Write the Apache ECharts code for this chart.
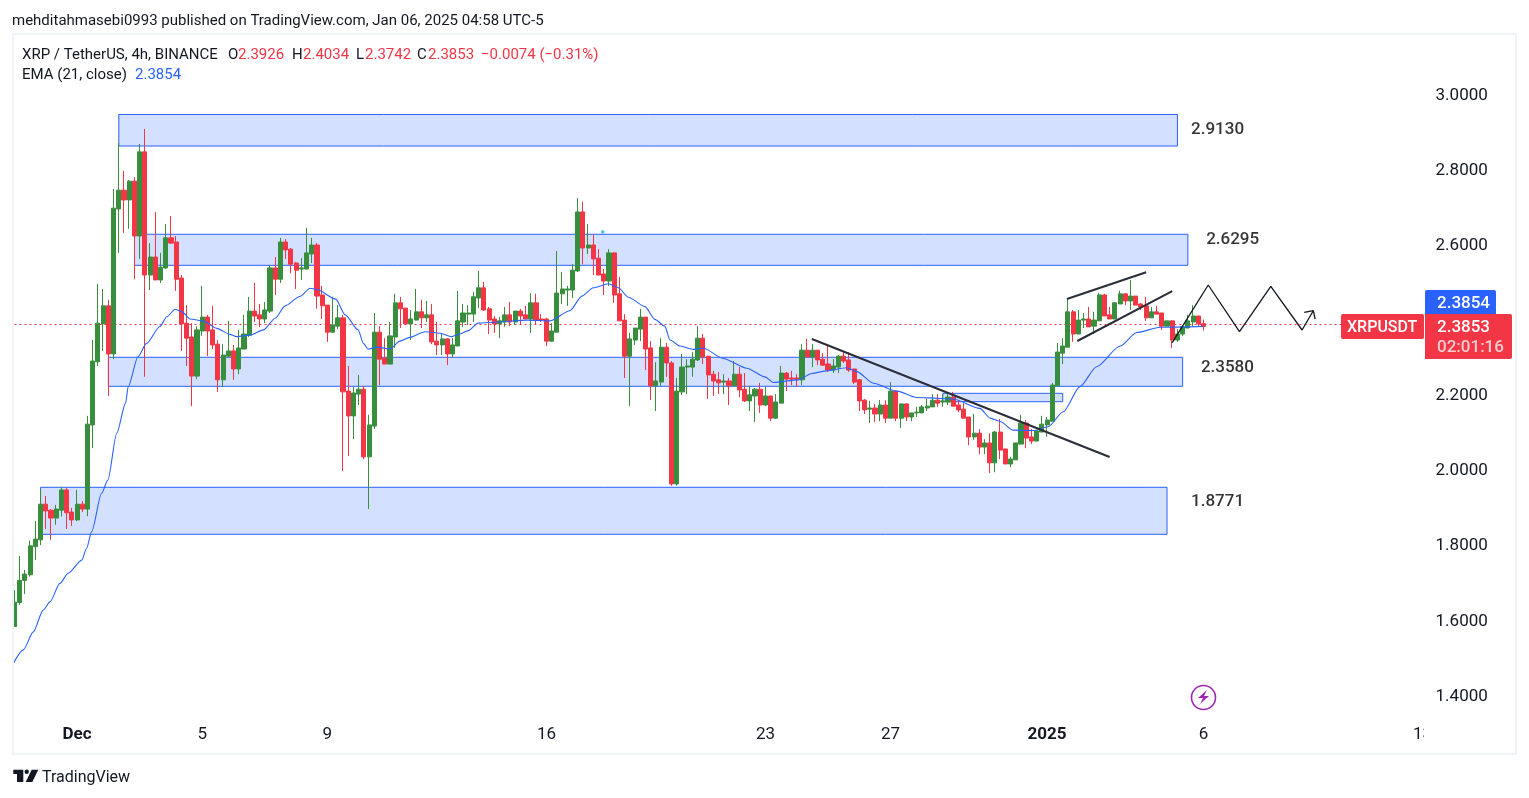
<!DOCTYPE html>
<html><head><meta charset="utf-8">
<style>html,body{margin:0;padding:0;background:#fff}#c{width:1529px;height:798px}</style>
<script src="https://cdn.jsdelivr.net/npm/echarts@6/dist/echarts.min.js"></script>
</head><body><div id="c"></div>
<script>
const opens=[1.586,1.650,1.709,1.724,1.799,1.817,1.912,1.896,1.875,1.896,1.950,1.891,1.870,1.912,1.899,2.123,2.291,2.392,2.440,2.312,2.698,2.748,2.722,2.772,2.626,2.850,2.522,2.570,2.509,2.541,2.621,2.610,2.514,2.394,2.357,2.253,2.373,2.410,2.376,2.338,2.243,2.306,2.320,2.272,2.325,2.362,2.426,2.416,2.405,2.426,2.541,2.511,2.610,2.591,2.554,2.538,2.538,2.578,2.602,2.469,2.442,2.370,2.386,2.408,2.213,2.147,2.205,2.218,2.038,2.120,2.370,2.301,2.285,2.357,2.448,2.434,2.392,2.402,2.424,2.408,2.416,2.346,2.336,2.352,2.312,2.333,2.397,2.418,2.418,2.461,2.488,2.432,2.405,2.392,2.397,2.416,2.397,2.426,2.416,2.405,2.448,2.405,2.405,2.346,2.370,2.472,2.482,2.482,2.533,2.690,2.594,2.602,2.567,2.525,2.506,2.581,2.472,2.402,2.306,2.349,2.378,2.410,2.328,2.227,2.237,2.330,2.288,1.966,2.211,2.277,2.277,2.296,2.354,2.306,2.258,2.243,2.237,2.240,2.227,2.258,2.218,2.187,2.200,2.218,2.176,2.200,2.141,2.181,2.261,2.248,2.248,2.243,2.322,2.304,2.322,2.298,2.285,2.269,2.277,2.306,2.296,2.272,2.243,2.189,2.165,2.168,2.152,2.176,2.141,2.213,2.141,2.179,2.144,2.155,2.155,2.168,2.171,2.189,2.184,2.184,2.197,2.176,2.165,2.144,2.091,2.101,2.064,2.075,2.022,2.104,2.059,2.019,2.030,2.072,2.128,2.091,2.080,2.104,2.123,2.133,2.227,2.314,2.330,2.424,2.365,2.402,2.405,2.386,2.400,2.469,2.416,2.405,2.445,2.472,2.453,2.466,2.445,2.440,2.408,2.424,2.421,2.386,2.400,2.349,2.365,2.381,2.397,2.413,2.3926];
const closes=[1.651,1.709,1.726,1.801,1.819,1.912,1.894,1.875,1.899,1.950,1.889,1.870,1.912,1.899,2.125,2.293,2.394,2.440,2.312,2.700,2.748,2.722,2.772,2.626,2.850,2.522,2.570,2.509,2.543,2.621,2.607,2.511,2.392,2.354,2.253,2.376,2.410,2.373,2.336,2.243,2.309,2.320,2.272,2.328,2.365,2.426,2.413,2.405,2.429,2.541,2.511,2.610,2.589,2.551,2.535,2.541,2.581,2.602,2.466,2.440,2.370,2.389,2.408,2.211,2.147,2.208,2.218,2.038,2.123,2.370,2.298,2.285,2.360,2.448,2.432,2.392,2.405,2.424,2.408,2.416,2.344,2.336,2.352,2.312,2.336,2.400,2.421,2.421,2.464,2.488,2.429,2.402,2.392,2.400,2.416,2.397,2.426,2.413,2.405,2.448,2.402,2.402,2.346,2.373,2.474,2.485,2.485,2.535,2.690,2.594,2.602,2.565,2.522,2.506,2.581,2.469,2.400,2.306,2.352,2.381,2.410,2.325,2.227,2.240,2.330,2.288,1.966,2.213,2.277,2.280,2.298,2.354,2.304,2.256,2.240,2.235,2.240,2.227,2.258,2.216,2.187,2.203,2.218,2.176,2.200,2.141,2.184,2.261,2.245,2.245,2.245,2.322,2.304,2.322,2.296,2.282,2.269,2.280,2.306,2.293,2.269,2.237,2.187,2.163,2.168,2.152,2.176,2.141,2.213,2.141,2.179,2.144,2.155,2.157,2.171,2.173,2.189,2.181,2.187,2.197,2.173,2.163,2.141,2.091,2.101,2.064,2.075,2.022,2.104,2.056,2.019,2.032,2.075,2.128,2.088,2.080,2.107,2.125,2.136,2.229,2.317,2.333,2.424,2.365,2.402,2.405,2.384,2.402,2.469,2.413,2.405,2.448,2.472,2.453,2.466,2.442,2.437,2.408,2.424,2.418,2.386,2.400,2.349,2.365,2.384,2.400,2.413,2.392,2.3853];
const lows=[1.586,1.644,1.673,1.719,1.763,1.803,1.846,1.817,1.857,1.879,1.846,1.854,1.867,1.891,1.880,2.061,2.280,2.320,2.200,2.298,2.581,2.634,2.645,2.511,2.565,2.251,2.482,2.509,2.501,2.538,2.605,2.480,2.320,2.280,2.173,2.245,2.360,2.306,2.325,2.211,2.224,2.304,2.243,2.258,2.325,2.357,2.397,2.384,2.394,2.421,2.469,2.501,2.565,2.527,2.485,2.509,2.538,2.554,2.432,2.405,2.344,2.368,2.378,2.000,2.040,2.085,2.176,2.032,1.899,2.112,2.229,2.285,2.285,2.328,2.381,2.392,2.349,2.402,2.381,2.397,2.338,2.309,2.309,2.282,2.301,2.333,2.384,2.389,2.397,2.434,2.426,2.365,2.368,2.354,2.384,2.386,2.389,2.389,2.405,2.368,2.389,2.397,2.333,2.344,2.370,2.445,2.440,2.461,2.530,2.551,2.578,2.522,2.522,2.469,2.493,2.448,2.400,2.248,2.173,2.336,2.346,2.269,2.189,2.160,2.227,2.251,1.961,1.961,2.203,2.205,2.251,2.293,2.285,2.192,2.200,2.205,2.205,2.176,2.227,2.197,2.184,2.160,2.131,2.155,2.173,2.133,2.139,2.181,2.213,2.229,2.224,2.229,2.304,2.277,2.282,2.280,2.264,2.261,2.261,2.288,2.264,2.232,2.160,2.152,2.128,2.131,2.133,2.128,2.141,2.133,2.115,2.133,2.133,2.144,2.155,2.160,2.171,2.171,2.171,2.176,2.173,2.157,2.141,2.069,2.083,2.045,2.045,1.995,1.997,2.032,2.019,2.011,2.030,2.072,2.061,2.072,2.080,2.104,2.091,2.133,2.227,2.285,2.330,2.344,2.365,2.381,2.384,2.365,2.400,2.413,2.405,2.405,2.445,2.442,2.429,2.442,2.429,2.400,2.408,2.418,2.376,2.386,2.328,2.344,2.360,2.381,2.386,2.386,2.3742];
const highs=[1.683,1.774,1.737,1.815,1.867,1.950,1.934,1.899,1.910,1.958,1.955,1.902,1.950,1.920,2.147,2.349,2.498,2.485,2.456,2.751,2.874,2.799,2.775,2.783,2.871,2.911,2.607,2.690,2.581,2.658,2.679,2.626,2.522,2.442,2.394,2.386,2.493,2.416,2.440,2.349,2.338,2.400,2.336,2.376,2.416,2.464,2.501,2.445,2.450,2.549,2.570,2.621,2.618,2.594,2.557,2.567,2.647,2.621,2.607,2.493,2.442,2.464,2.442,2.416,2.280,2.224,2.256,2.227,2.150,2.421,2.386,2.354,2.397,2.472,2.464,2.434,2.429,2.485,2.456,2.453,2.445,2.397,2.368,2.354,2.354,2.480,2.445,2.442,2.477,2.533,2.504,2.437,2.413,2.410,2.437,2.450,2.426,2.432,2.440,2.474,2.472,2.418,2.408,2.394,2.586,2.530,2.493,2.551,2.727,2.717,2.658,2.629,2.591,2.538,2.591,2.583,2.517,2.418,2.368,2.381,2.432,2.410,2.346,2.290,2.354,2.341,2.293,2.248,2.312,2.298,2.317,2.386,2.365,2.306,2.267,2.264,2.258,2.248,2.293,2.277,2.261,2.227,2.221,2.235,2.224,2.200,2.205,2.280,2.264,2.267,2.258,2.338,2.352,2.338,2.322,2.314,2.333,2.298,2.309,2.317,2.317,2.272,2.245,2.192,2.187,2.179,2.189,2.189,2.237,2.216,2.179,2.181,2.155,2.171,2.176,2.192,2.205,2.205,2.205,2.211,2.211,2.189,2.181,2.144,2.152,2.112,2.085,2.101,2.107,2.139,2.059,2.038,2.075,2.150,2.136,2.112,2.107,2.147,2.144,2.235,2.341,2.354,2.458,2.429,2.429,2.421,2.437,2.424,2.474,2.472,2.437,2.450,2.480,2.472,2.509,2.466,2.448,2.464,2.437,2.440,2.421,2.400,2.402,2.378,2.384,2.416,2.442,2.413,2.4034];

const emaPos=[-0.3,1.7,3.6,5.5,6.8,8.7,10.3,12.9,13.8,14.8,16.7,17.9,19.6,21.3,21.8,23.7,25.3,27.9,29.2,30.8,32.1,33.7,36.2,38.8,41.3,42.6,45.2,47.7,50,51.9,54.7,56.7,57.9,61.6,63.4,65.9,66.9,67.8,69.5,72,73.9,75.8,78.7,81.6,83.8,85.4,87,88.9,92.5,98.2,102.7,106.5,108.8,111,113.9,115.8,117.7,120.9,122.8,124.7,125.7,127.6,130.2,132.1,135.9,140.4,143.9,145.5,150.3,152.9,155.7,159.6,161.5,164.7,169.2,173,175.5,180,185.1,187.1,189,191.5,195.4,198.2,201.1,204.3,207.5,212,215.2,219.7,228];
const emaVal=[1.486,1.524,1.572,1.630,1.652,1.701,1.728,1.763,1.794,1.839,1.941,1.976,2.101,2.181,2.225,2.305,2.340,2.385,2.411,2.431,2.424,2.405,2.400,2.380,2.364,2.358,2.362,2.376,2.407,2.440,2.465,2.487,2.484,2.458,2.416,2.376,2.340,2.325,2.330,2.325,2.346,2.356,2.371,2.367,2.358,2.365,2.374,2.394,2.397,2.402,2.400,2.427,2.466,2.488,2.499,2.488,2.463,2.438,2.404,2.386,2.349,2.333,2.324,2.327,2.300,2.274,2.251,2.236,2.243,2.260,2.267,2.275,2.265,2.234,2.213,2.196,2.195,2.192,2.167,2.141,2.132,2.109,2.108,2.118,2.158,2.225,2.278,2.333,2.369,2.383,2.3854];

const yTicks=[1.4,1.6,1.8,2.0,2.2,2.4,2.6,2.8,3.0];
const xTickPos=[12,36,60,102,144,168,198,228,270];
const xTickText=['Dec','5','9','16','23','27','2025','6','13'];
const lastPrice=2.3853;

// zones: [from candle, to candle, top price, bottom price]
const zoneFrom=[20,23,18,5,178];
const zoneTo=[223,225,224,221,201];
const zoneTop=[2.9494,2.6305,2.303,1.9569,2.2071];
const zoneBottom=[2.8655,2.5479,2.2258,1.8317,2.1848];

const noteText=['2.9130','2.6295','2.3580','1.8771'];
const notePos=[225.6,228.5,227.5,225.6];
const noteVal=[2.913,2.622,2.280,1.923];

const trendA=[[152.9,2.3517],[210,2.0375]];
const channelUp=[[201.8,2.4582],[217,2.5293]];
const channelLow=[[203.8,2.3464],[222,2.4795]];
const zigzag=[[222,2.3419],[228.9,2.4955],[234.9,2.3711],[240.9,2.492],[246.9,2.3757],[249.05,2.427]];
const arrowHead=[[247.3,2.4228],[249.05,2.427],[249.4,2.405]];
const dot=[[112.8,2.637]];

const SLOTS=271;
const categories=[];
for(let i=0;i<SLOTS;i++){const k=xTickPos.indexOf(i);categories.push(k>=0?xTickText[k]:'i'+i);}
const candle=opens.map((o,i)=>[o,closes[i],lows[i],highs[i]]);
const FONT='Roboto, sans-serif', INK='#131722', RED='#f23645', GREEN='#388e3c', BLUE='#2962ff';
const lineSeries=(d,w,c,z,smooth)=>({type:'line',xAxisIndex:1,yAxisIndex:0,data:d,symbol:'none',silent:true,z:z||6,smooth:smooth||false,smoothMonotone:smooth?'x':undefined,lineStyle:{color:c,width:w},animation:false});
function txt(x,y,s,o,z){return {type:'text',z:z||100,style:Object.assign({x:x,y:y,text:s,fill:INK,font:'15px '+FONT,textVerticalAlign:'middle'},o||{})};}
function headerRow(){
 const f='15px '+FONT; const r=[];
 r.push(txt(12,21,'mehditahmasebi0993 published on TradingView.com, Jan 06, 2025 04:58 UTC-5',{font:f}));
 r.push(txt(22,55.5,'XRP / TetherUS, 4h, BINANCE',{font:f}));
 [['O',228,'2.3926',238],['H',292,'2.4034',303],['L',356,'2.3742',365],['C',417,'2.3853',428]].forEach(a=>{
  r.push(txt(a[1],55.5,a[0],{font:f})); r.push(txt(a[3],55.5,a[2],{font:f,fill:RED}));});
 r.push(txt(481,55.5,'\u22120.0074 (\u22120.31%)',{font:f,fill:RED}));
 r.push(txt(22,75.5,'EMA (21, close)',{font:f}));
 r.push(txt(135,75.5,'2.3854',{font:f,fill:BLUE}));
 return r;
}
const chart=echarts.init(document.getElementById('c'),null,{renderer:'canvas'});
chart.setOption({
 animation:false,backgroundColor:'#fff',
 grid:{left:14.5,top:35,width:1408.05,height:683,containLabel:false},
 xAxis:[{type:'category',data:categories,boundaryGap:false,axisLine:{show:false},axisTick:{show:false},splitLine:{show:false},
   axisLabel:{interval:(i)=>xTickPos.indexOf(i)>=0,showMaxLabel:true,hideOverlap:false,margin:8,
     formatter:(v)=>(v==='Dec'||v==='2025')?'{b|'+v+'}':v,color:INK,fontSize:17,fontFamily:FONT,
     rich:{b:{fontWeight:'bold',fontSize:17,fontFamily:FONT,color:INK}}}},
  {type:'value',min:0,max:270,show:false,splitLine:{show:false}}],
 yAxis:{type:'value',position:'right',min:1.3427,max:3.1611,scale:true,axisLine:{show:false},axisTick:{show:false},splitLine:{show:false},
   axisLabel:{customValues:yTicks,formatter:(v)=>Number(v).toFixed(4),color:INK,fontSize:17,fontFamily:FONT,margin:13,align:'left',padding:[6,0,0,0]}},
 series:[
  {type:'line',xAxisIndex:1,yAxisIndex:0,data:[],symbol:'none',silent:true,z:1,
   markArea:{silent:true,z:1,itemStyle:{color:'#d3e0ff',borderColor:BLUE,borderWidth:1},
    data:zoneFrom.map((f,i)=>[{xAxis:f,yAxis:zoneTop[i]},{xAxis:zoneTo[i],yAxis:zoneBottom[i]}])}},
  {type:'candlestick',xAxisIndex:0,yAxisIndex:0,data:candle,barWidth:4.6,z:3,silent:true,clip:true,
   itemStyle:{color:GREEN,color0:RED,borderColor:GREEN,borderColor0:RED,borderWidth:1},
   markLine:{silent:true,symbol:'none',z:2,animation:false,label:{show:false},lineStyle:{color:RED,type:[2,3],width:1},data:[{yAxis:lastPrice}]}},
  lineSeries(emaPos.map((p,i)=>[p,emaVal[i]]),1.1,BLUE,4,0.25),
  lineSeries(trendA,2,'#2a2e39'),
  lineSeries(channelUp,2,'#2a2e39'),
  lineSeries(channelLow,2,'#2a2e39'),
  lineSeries(zigzag,1.3,INK),
  lineSeries(arrowHead,1.3,INK),
  {type:'scatter',xAxisIndex:1,yAxisIndex:0,data:dot,symbol:'rect',symbolSize:3,silent:true,z:5,itemStyle:{color:'#00bcd4'}},
  {type:'scatter',xAxisIndex:1,yAxisIndex:0,silent:true,z:7,symbolSize:0,
   data:notePos.map((p,i)=>({value:[p,noteVal[i]],label:{formatter:noteText[i]}})),
   label:{show:true,position:'right',distance:0,offset:[0,2],color:'#000',fontSize:17,fontWeight:500,fontFamily:FONT}}
 ],
 graphic:{elements:[
  {type:'rect',z:99,shape:{x:1424,y:722,width:30,height:24},style:{fill:'#fff'}},
  {type:'rect',z:100,shape:{x:13,y:34,width:1503,height:720},style:{fill:'none',stroke:'#f0f3fa',lineWidth:2}},
  ...headerRow(),
  {type:'rect',z:101,shape:{x:1341,y:314,width:83,height:25,r:2},style:{fill:RED}},
  txt(1347,327.5,'XRPUSDT',{fill:'#fff',font:'500 16px '+FONT},102),
  {type:'rect',z:101,shape:{x:1425,y:290,width:71,height:24,r:[2,2,0,0]},style:{fill:BLUE}},
  {type:'rect',z:101,shape:{x:1425,y:314,width:87,height:45,r:[0,2,2,0]},style:{fill:RED}},
  txt(1437,303.5,'2.3854',{fill:'#fff',font:'500 17px '+FONT},102),
  txt(1437,327.5,'2.3853',{fill:'#fff',font:'500 17px '+FONT},102),
  txt(1437,348,'02:01:16',{fill:'rgba(255,255,255,0.75)',font:'500 17px '+FONT},102),
  {type:'circle',z:100,shape:{cx:1203.5,cy:697.5,r:12},style:{fill:'none',stroke:'#9c27b0',lineWidth:1.6}},
  {type:'polygon',z:100,shape:{points:[[1207,690],[1198,698],[1203,698],[1200,704],[1209,696],[1204,696]]},style:{fill:'#9c27b0'}},
  {type:'polygon',z:100,shape:{points:[[13.3,769.7],[23.3,769.7],[23.3,782],[17,782],[17,774],[13.3,774]]},style:{fill:INK}},
  {type:'circle',z:100,shape:{cx:26.7,cy:771.8,r:2.2},style:{fill:INK}},
  {type:'polygon',z:100,shape:{points:[[31.7,769.7],[38.3,769.7],[32.3,782],[25.7,782]]},style:{fill:INK}},
  txt(42,777.5,'TradingView',{font:'400 16px '+FONT})
 ]}
});
</script></body></html>
